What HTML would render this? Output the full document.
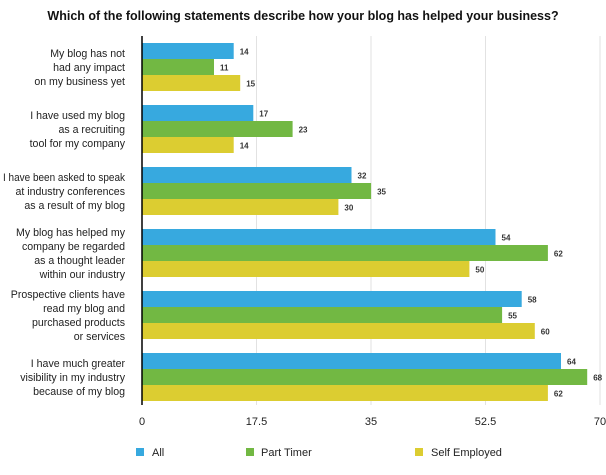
<!DOCTYPE html>
<html><head><style>
body{margin:0;background:#fff;}
svg text{font-family:"Liberation Sans",sans-serif;}
</style></head><body>
<svg width="606" height="470" xmlns="http://www.w3.org/2000/svg">
<rect width="606" height="470" fill="#fff"/>
<text x="303" y="20" text-anchor="middle" font-size="12.5" font-weight="bold" fill="#111">Which of the following statements describe how your blog has helped your business?</text>
<g stroke="#e2e2e2" stroke-width="1">
<line x1="256.5" y1="36" x2="256.5" y2="405"/>
<line x1="371" y1="36" x2="371" y2="405"/>
<line x1="485.5" y1="36" x2="485.5" y2="405"/>
<line x1="600" y1="36" x2="600" y2="405"/>
</g>
<g>
<rect x="142" y="43" width="91.7" height="16" fill="#37a9df"/><rect x="142" y="59" width="72" height="16" fill="#72b843"/><rect x="142" y="75" width="98.2" height="16" fill="#dccd31"/>
<rect x="142" y="105" width="111.3" height="16" fill="#37a9df"/><rect x="142" y="121" width="150.6" height="16" fill="#72b843"/><rect x="142" y="137" width="91.7" height="16" fill="#dccd31"/>
<rect x="142" y="167" width="209.5" height="16" fill="#37a9df"/><rect x="142" y="183" width="229.1" height="16" fill="#72b843"/><rect x="142" y="199" width="196.4" height="16" fill="#dccd31"/>
<rect x="142" y="229" width="353.5" height="16" fill="#37a9df"/><rect x="142" y="245" width="405.9" height="16" fill="#72b843"/><rect x="142" y="261" width="327.4" height="16" fill="#dccd31"/>
<rect x="142" y="291" width="379.7" height="16" fill="#37a9df"/><rect x="142" y="307" width="360.1" height="16" fill="#72b843"/><rect x="142" y="323" width="392.8" height="16" fill="#dccd31"/>
<rect x="142" y="353" width="419" height="16" fill="#37a9df"/><rect x="142" y="369" width="445.2" height="16" fill="#72b843"/><rect x="142" y="385" width="405.9" height="16" fill="#dccd31"/>
</g>
<g font-size="8" font-weight="bold" fill="#333">
<text x="239.7" y="54.5">14</text><text x="220" y="70.5">11</text><text x="246.2" y="86.5">15</text>
<text x="259.3" y="116.5">17</text><text x="298.6" y="132.5">23</text><text x="239.7" y="148.5">14</text>
<text x="357.5" y="178.5">32</text><text x="377.1" y="194.5">35</text><text x="344.4" y="210.5">30</text>
<text x="501.5" y="240.5">54</text><text x="553.9" y="256.5">62</text><text x="475.4" y="272.5">50</text>
<text x="527.7" y="302.5">58</text><text x="508.1" y="318.5">55</text><text x="540.8" y="334.5">60</text>
<text x="567" y="364.5">64</text><text x="593.2" y="380.5">68</text><text x="553.9" y="396.5">62</text>
</g>
<line x1="142" y1="36" x2="142" y2="405" stroke="#000" stroke-width="1.5"/>
<g font-size="11" fill="#222" text-anchor="middle">
<text x="142" y="425">0</text><text x="256.5" y="425">17.5</text><text x="371" y="425">35</text><text x="485.5" y="425">52.5</text><text x="600" y="425">70</text>
</g>
<g font-size="10.6" fill="#222" text-anchor="end">
<text x="125" y="57">My blog has not</text><text x="125" y="71">had any impact</text><text x="125" y="85">on my business yet</text>
<text x="125" y="119">I have used my blog</text><text x="125" y="133">as a recruiting</text><text x="125" y="147">tool for my company</text>
<text x="125" y="181" textLength="122" lengthAdjust="spacingAndGlyphs">I have been asked to speak</text><text x="125" y="195">at industry conferences</text><text x="125" y="209">as a result of my blog</text>
<text x="125" y="236">My blog has helped my</text><text x="125" y="250">company be regarded</text><text x="125" y="264">as a thought leader</text><text x="125" y="278">within our industry</text>
<text x="125" y="298">Prospective clients have</text><text x="125" y="312">read my blog and</text><text x="125" y="326">purchased products</text><text x="125" y="340">or services</text>
<text x="125" y="367">I have much greater</text><text x="125" y="381">visibility in my industry</text><text x="125" y="395">because of my blog</text>
</g>
<g font-size="11" fill="#222">
<rect x="136" y="448" width="8" height="8" fill="#37a9df"/><text x="152" y="456">All</text>
<rect x="246" y="448" width="8" height="8" fill="#72b843"/><text x="261" y="456">Part Timer</text>
<rect x="415" y="448" width="8" height="8" fill="#dccd31"/><text x="431" y="456">Self Employed</text>
</g>
</svg>
</body></html>
